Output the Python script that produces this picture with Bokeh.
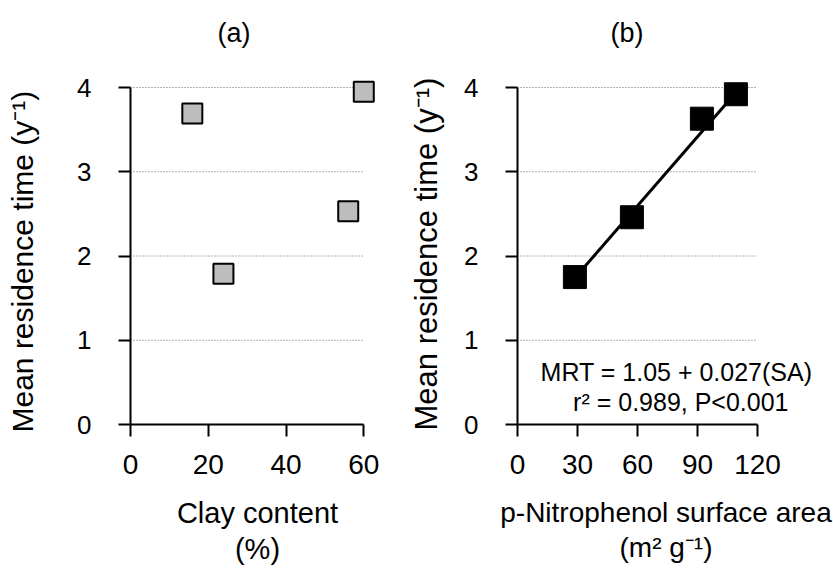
import math
from bokeh.plotting import figure
from bokeh.models import Range1d, FixedTicker, Label, Title
from bokeh.layouts import row
from bokeh.embed import file_html
from bokeh.resources import INLINE

# ---- data ----
CLAY = [15.9, 23.9, 56.0, 60.0]          # clay content (%)
MRT_A = [3.69, 1.79, 2.53, 3.95]         # mean residence time (y-1)
SA = [28.7, 57.2, 92.2, 109.2]           # p-nitrophenol surface area (m2 g-1)
MRT_B = [1.75, 2.46, 3.63, 3.92]         # mean residence time (y-1)
FIT_X = [28.7, 109.2]                    # regression line ends
FIT_Y = [1.74, 3.94]
XTICKS_A = [0, 20, 40, 60]
XTICKS_B = [0, 30, 60, 90, 120]
YTICKS = [0, 1, 2, 3, 4]
GRID_Y = [1, 2, 3, 4]

FONT = "Liberation Sans"
H = 568
Y_END = 4.3205


def base_fig(width, left, right, x_end, xticks, ylab_std, xlabel):
    p = figure(width=width, height=H, x_range=Range1d(0, x_end), y_range=Range1d(0, Y_END),
               output_backend="svg", toolbar_location=None,
               min_border_left=left, min_border_right=right,
               min_border_top=60, min_border_bottom=H - 424)
    p.outline_line_color = None
    p.xgrid.visible = False
    p.ygrid.visible = False
    p.background_fill_color = "white"
    p.border_fill_color = "white"
    for ax, ticks in ((p.xaxis[0], xticks), (p.yaxis[0], YTICKS)):
        ax.ticker = FixedTicker(ticks=ticks)
        ax.bounds = (ticks[0], ticks[-1])
        ax.minor_tick_line_color = None
        ax.major_tick_in = 0
        ax.major_tick_out = 12
        ax.axis_line_width = 2
        ax.major_tick_line_width = 2
        ax.axis_line_color = "black"
        ax.major_tick_line_color = "black"
        ax.major_label_text_font = FONT
        ax.major_label_text_color = "black"
    p.xaxis.major_label_text_font_size = "28px"
    p.xaxis.major_label_standoff = 18
    p.yaxis.major_label_text_font_size = "26px"
    p.yaxis.major_label_standoff = ylab_std
    xa = p.xaxis[0]
    xa.axis_label = xlabel
    xa.axis_label_text_font = FONT
    xa.axis_label_text_font_size = "29px"
    xa.axis_label_text_font_style = "normal"
    xa.axis_label_text_color = "black"
    xa.axis_label_text_line_height = 1.15
    xa.axis_label_standoff = 20
    p.segment(x0=[xticks[0]] * len(GRID_Y), x1=[xticks[-1]] * len(GRID_Y), y0=GRID_Y, y1=GRID_Y,
              line_color="#666666", line_width=1, line_dash="1 2")
    return p


def title(p, text, side, size, align="left", offset=0, standoff=0):
    p.add_layout(Title(text=text, align=align, offset=offset, standoff=standoff,
                       text_font=FONT, text_font_size=size, text_font_style="normal",
                       text_color="black"), side)


def lab(p, text, x, y, size, align="center"):
    p.add_layout(Label(x=x, y=y, x_units="screen", y_units="screen", text=text,
                       text_font=FONT, text_font_size=size, text_align=align,
                       text_baseline="alphabetic", text_color="black"))


# ---- panel (a) ----
pa = base_fig(400, 130, 16, 254 / 3.888, XTICKS_A, 27, "Clay content\n(%)")
pa.scatter(CLAY, MRT_A, marker="square", size=20, fill_color="#bdbdbd",
           line_color="black", line_width=2)
title(pa, "(a)", "above", "27px", align="left", offset=87, standoff=26)
title(pa, " ", "left", "1px", standoff=30)                      # spacer
title(pa, "Mean residence time (y\u207b\u00b9)", "left", "30px", align="left", offset=-8, standoff=5)

# ---- panel (b) ----
pb = base_fig(433, 117, 19, 297 / 2.0, XTICKS_B, 27, "p-Nitrophenol surface area\n(m\u00b2 g\u207b\u00b9)")
pb.xaxis[0].axis_label_text_font_size = "28px"
pb.line(FIT_X, FIT_Y, line_color="black", line_width=3)
pb.scatter(SA, MRT_B, marker="square", size=23, fill_color="black",
           line_color="black", line_width=1)
title(pb, "(b)", "above", "27px", align="left", offset=93, standoff=26)
title(pb, " ", "left", "1px", standoff=11)                      # spacer
title(pb, "Mean residence time (y\u207b\u00b9)", "left", "31px", align="left", offset=-6, standoff=7)
lab(pb, "MRT = 1.05 + 0.027(SA)", 159, 52.3, "25px")
lab(pb, "r\u00b2 = 0.989, P<0.001", 163.3, 22.3, "25px")

layout = row(pa, pb)
open("out.html", "w").write(file_html(layout, INLINE))
